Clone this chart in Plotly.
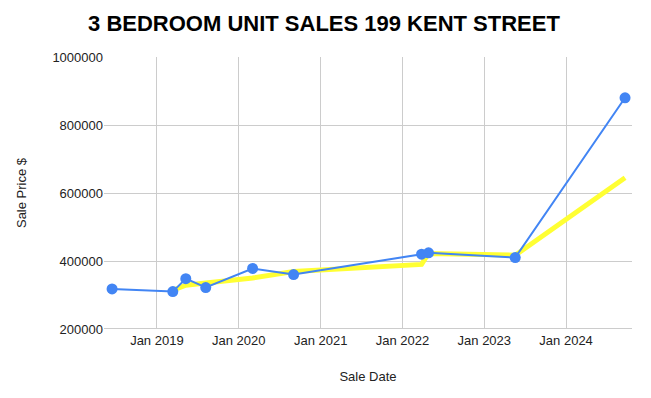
import plotly.graph_objects as go

sale_dates = ["2018-06-15", "2019-03-13", "2019-05-10", "2019-08-07", "2020-03-03",
              "2020-09-02", "2022-03-27", "2022-04-27", "2023-05-19", "2024-09-20"]
sale_prices = [318000, 310000, 348000, 322000, 378000, 360000, 420000, 424000, 410000, 880000]

trend_dates = sale_dates[1:]
trend_values = [314000, 329000, 335000, 350000, 369000, 390000, 422000, 417000, 645000]

x_ticks = ["2019-01-01", "2020-01-01", "2021-01-01", "2022-01-01", "2023-01-01", "2024-01-01"]
x_tick_labels = ["Jan 2019", "Jan 2020", "Jan 2021", "Jan 2022", "Jan 2023", "Jan 2024"]
y_ticks = [200000, 400000, 600000, 800000, 1000000]

fig = go.Figure()
fig.add_trace(go.Scatter(x=trend_dates, y=trend_values, mode="lines",
                         line=dict(color="#FFFF33", width=5), hoverinfo="skip",
                         showlegend=False))
fig.add_trace(go.Scatter(x=sale_dates, y=sale_prices, mode="lines+markers",
                         line=dict(color="#4285F4", width=2),
                         marker=dict(color="#4285F4", size=11),
                         showlegend=False))

# page body has an 8px default margin, so the figure is sized/offset to compensate
fig.update_layout(
    width=643, height=390,
    margin=dict(l=96, r=19, t=49, b=69, autoexpand=False),
    paper_bgcolor="white", plot_bgcolor="white",
    font=dict(family="Liberation Sans, Arial, sans-serif", size=12, color="#222"),
    title=dict(text="<b>3 BEDROOM UNIT SALES 199 KENT STREET</b>", x=0.4914, xanchor="center",
               y=0.962, yanchor="middle", font=dict(size=22, color="#000"), automargin=False),
    xaxis=dict(type="date", range=["2018-05-10", "2024-10-21"], automargin=False,
               tickvals=x_ticks, ticktext=x_tick_labels, ticklabelstandoff=2,
               showgrid=True, gridcolor="#cccccc", gridwidth=1,
               showline=False, zeroline=False, ticks="",
               tickfont=dict(size=13, color="#222"),
               title=dict(text="Sale Date", font=dict(size=13, color="#222"), standoff=24)),
    yaxis=dict(range=[200000, 1000000], tickvals=y_ticks, automargin=False,
               ticktext=[str(v) for v in y_ticks],
               showgrid=True, gridcolor="#cccccc", gridwidth=1,
               zeroline=False, showline=False, ticks="",
               tickfont=dict(size=13, color="#222"),
               title=dict(text="Sale Price $", font=dict(size=13, color="#222"), standoff=22)),
)
fig.add_shape(type="line", xref="paper", yref="y", x0=0, x1=1, y0=200000, y1=200000,
              line=dict(color="#999999", width=1), layer="below")
fig.write_html("out.html")
